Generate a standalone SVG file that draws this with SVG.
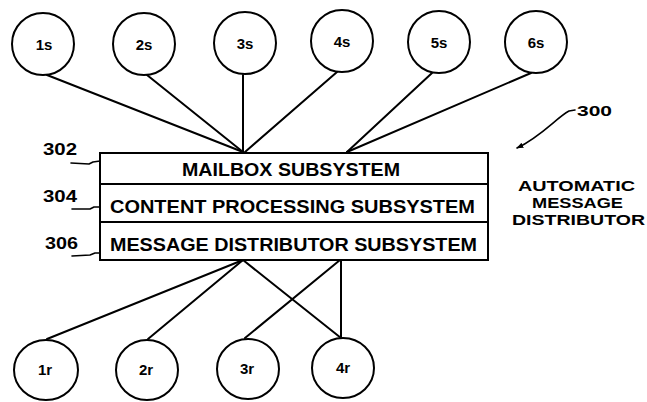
<svg xmlns="http://www.w3.org/2000/svg" width="647" height="402" viewBox="0 0 647 402">
<defs>
<style>
.c{fill:#fff;stroke:#000;stroke-width:2}
.l{fill:none;stroke:#000;stroke-width:2;stroke-linecap:round}
.ld{fill:none;stroke:#000;stroke-width:1.6;stroke-linecap:round;stroke-linejoin:round}
.t{font-family:"Liberation Sans",Arial,sans-serif;font-weight:bold;fill:#000}
.n{font-size:15px;text-anchor:middle}
.b{font-size:18px}
.r{font-size:16px}
.a{font-size:15px}
</style>
<marker id="ah" viewBox="0 0 10 10" refX="9" refY="5" markerWidth="7" markerHeight="7" orient="auto" markerUnits="userSpaceOnUse">
<path d="M0,1 L10,5 L0,9 Z" fill="#000"/>
</marker>
</defs>
<rect width="647" height="402" fill="#fff"/>
<g id="connectors">
<line class="l" x1="47" y1="75" x2="243" y2="152"/>
<line class="l" x1="147" y1="75" x2="243" y2="152"/>
<line class="l" x1="243" y1="75" x2="243" y2="152"/>
<line class="l" x1="337" y1="72" x2="245" y2="152"/>
<line class="l" x1="432" y1="73" x2="347" y2="152"/>
<line class="l" x1="531" y1="73" x2="347" y2="152"/>
<line class="l" x1="243" y1="260" x2="47" y2="339"/>
<line class="l" x1="243" y1="260" x2="148" y2="339"/>
<line class="l" x1="243" y1="260" x2="341" y2="338"/>
<line class="l" x1="340" y1="260" x2="245" y2="338"/>
<line class="l" x1="341" y1="260" x2="341" y2="338"/>
</g>
<g id="s1"><circle class="c" cx="43" cy="44" r="31"/><text class="t n" x="44" y="50">1s</text></g>
<g id="s2"><circle class="c" cx="144" cy="44" r="31"/><text class="t n" x="144" y="50">2s</text></g>
<g id="s3"><circle class="c" cx="245" cy="43" r="31"/><text class="t n" x="245" y="49">3s</text></g>
<g id="s4"><circle class="c" cx="342" cy="41" r="31"/><text class="t n" x="342" y="47">4s</text></g>
<g id="s5"><circle class="c" cx="439" cy="42" r="31"/><text class="t n" x="439" y="48">5s</text></g>
<g id="s6"><circle class="c" cx="536" cy="42" r="31"/><text class="t n" x="536" y="48">6s</text></g>
<g id="distributor">
<rect class="c" x="100" y="153" width="388" height="107"/>
<line class="l" x1="100" y1="184" x2="488" y2="184"/>
<line class="l" x1="100" y1="222" x2="488" y2="222"/>
<text class="t b" x="182" y="176" textLength="218" lengthAdjust="spacingAndGlyphs">MAILBOX SUBSYSTEM</text>
<text class="t b" x="110" y="213" textLength="365" lengthAdjust="spacingAndGlyphs">CONTENT PROCESSING SUBSYSTEM</text>
<text class="t b" x="110" y="251" textLength="367" lengthAdjust="spacingAndGlyphs">MESSAGE DISTRIBUTOR SUBSYSTEM</text>
</g>
<g id="ref302">
<text class="t r" x="43" y="155" textLength="34" lengthAdjust="spacingAndGlyphs">302</text>
<path class="ld" d="M71,163 L89,164 L93,162 L100,161"/>
</g>
<g id="ref304">
<text class="t r" x="43" y="202" textLength="34" lengthAdjust="spacingAndGlyphs">304</text>
<path class="ld" d="M72,209 L90,209 L94,207 L99,207"/>
</g>
<g id="ref306">
<text class="t r" x="45" y="249" textLength="33" lengthAdjust="spacingAndGlyphs">306</text>
<path class="ld" d="M72,256 L90,255 L95,253 L100,253"/>
</g>
<g id="ref300">
<text class="t" style="font-size:14px" x="577" y="116" textLength="35" lengthAdjust="spacingAndGlyphs">300</text>
<path class="ld" d="M575,110 L569,111 C556,118 542,136 517,148" marker-end="url(#ah)"/>
</g>
<g id="caption">
<text class="t a" x="518" y="191" textLength="117" lengthAdjust="spacingAndGlyphs">AUTOMATIC</text>
<text class="t a" x="532" y="208" textLength="91" lengthAdjust="spacingAndGlyphs">MESSAGE</text>
<text class="t a" x="512" y="225" textLength="133" lengthAdjust="spacingAndGlyphs">DISTRIBUTOR</text>
</g>
<g id="r1"><ellipse class="c" cx="46" cy="370" rx="32" ry="30"/><text class="t n" x="45" y="375">1r</text></g>
<g id="r2"><ellipse class="c" cx="147" cy="370" rx="31" ry="30"/><text class="t n" x="146" y="375">2r</text></g>
<g id="r3"><ellipse class="c" cx="248" cy="369" rx="31" ry="30"/><text class="t n" x="247" y="374">3r</text></g>
<g id="r4"><ellipse class="c" cx="343" cy="368" rx="31" ry="30"/><text class="t n" x="343" y="373">4r</text></g>
</svg>
